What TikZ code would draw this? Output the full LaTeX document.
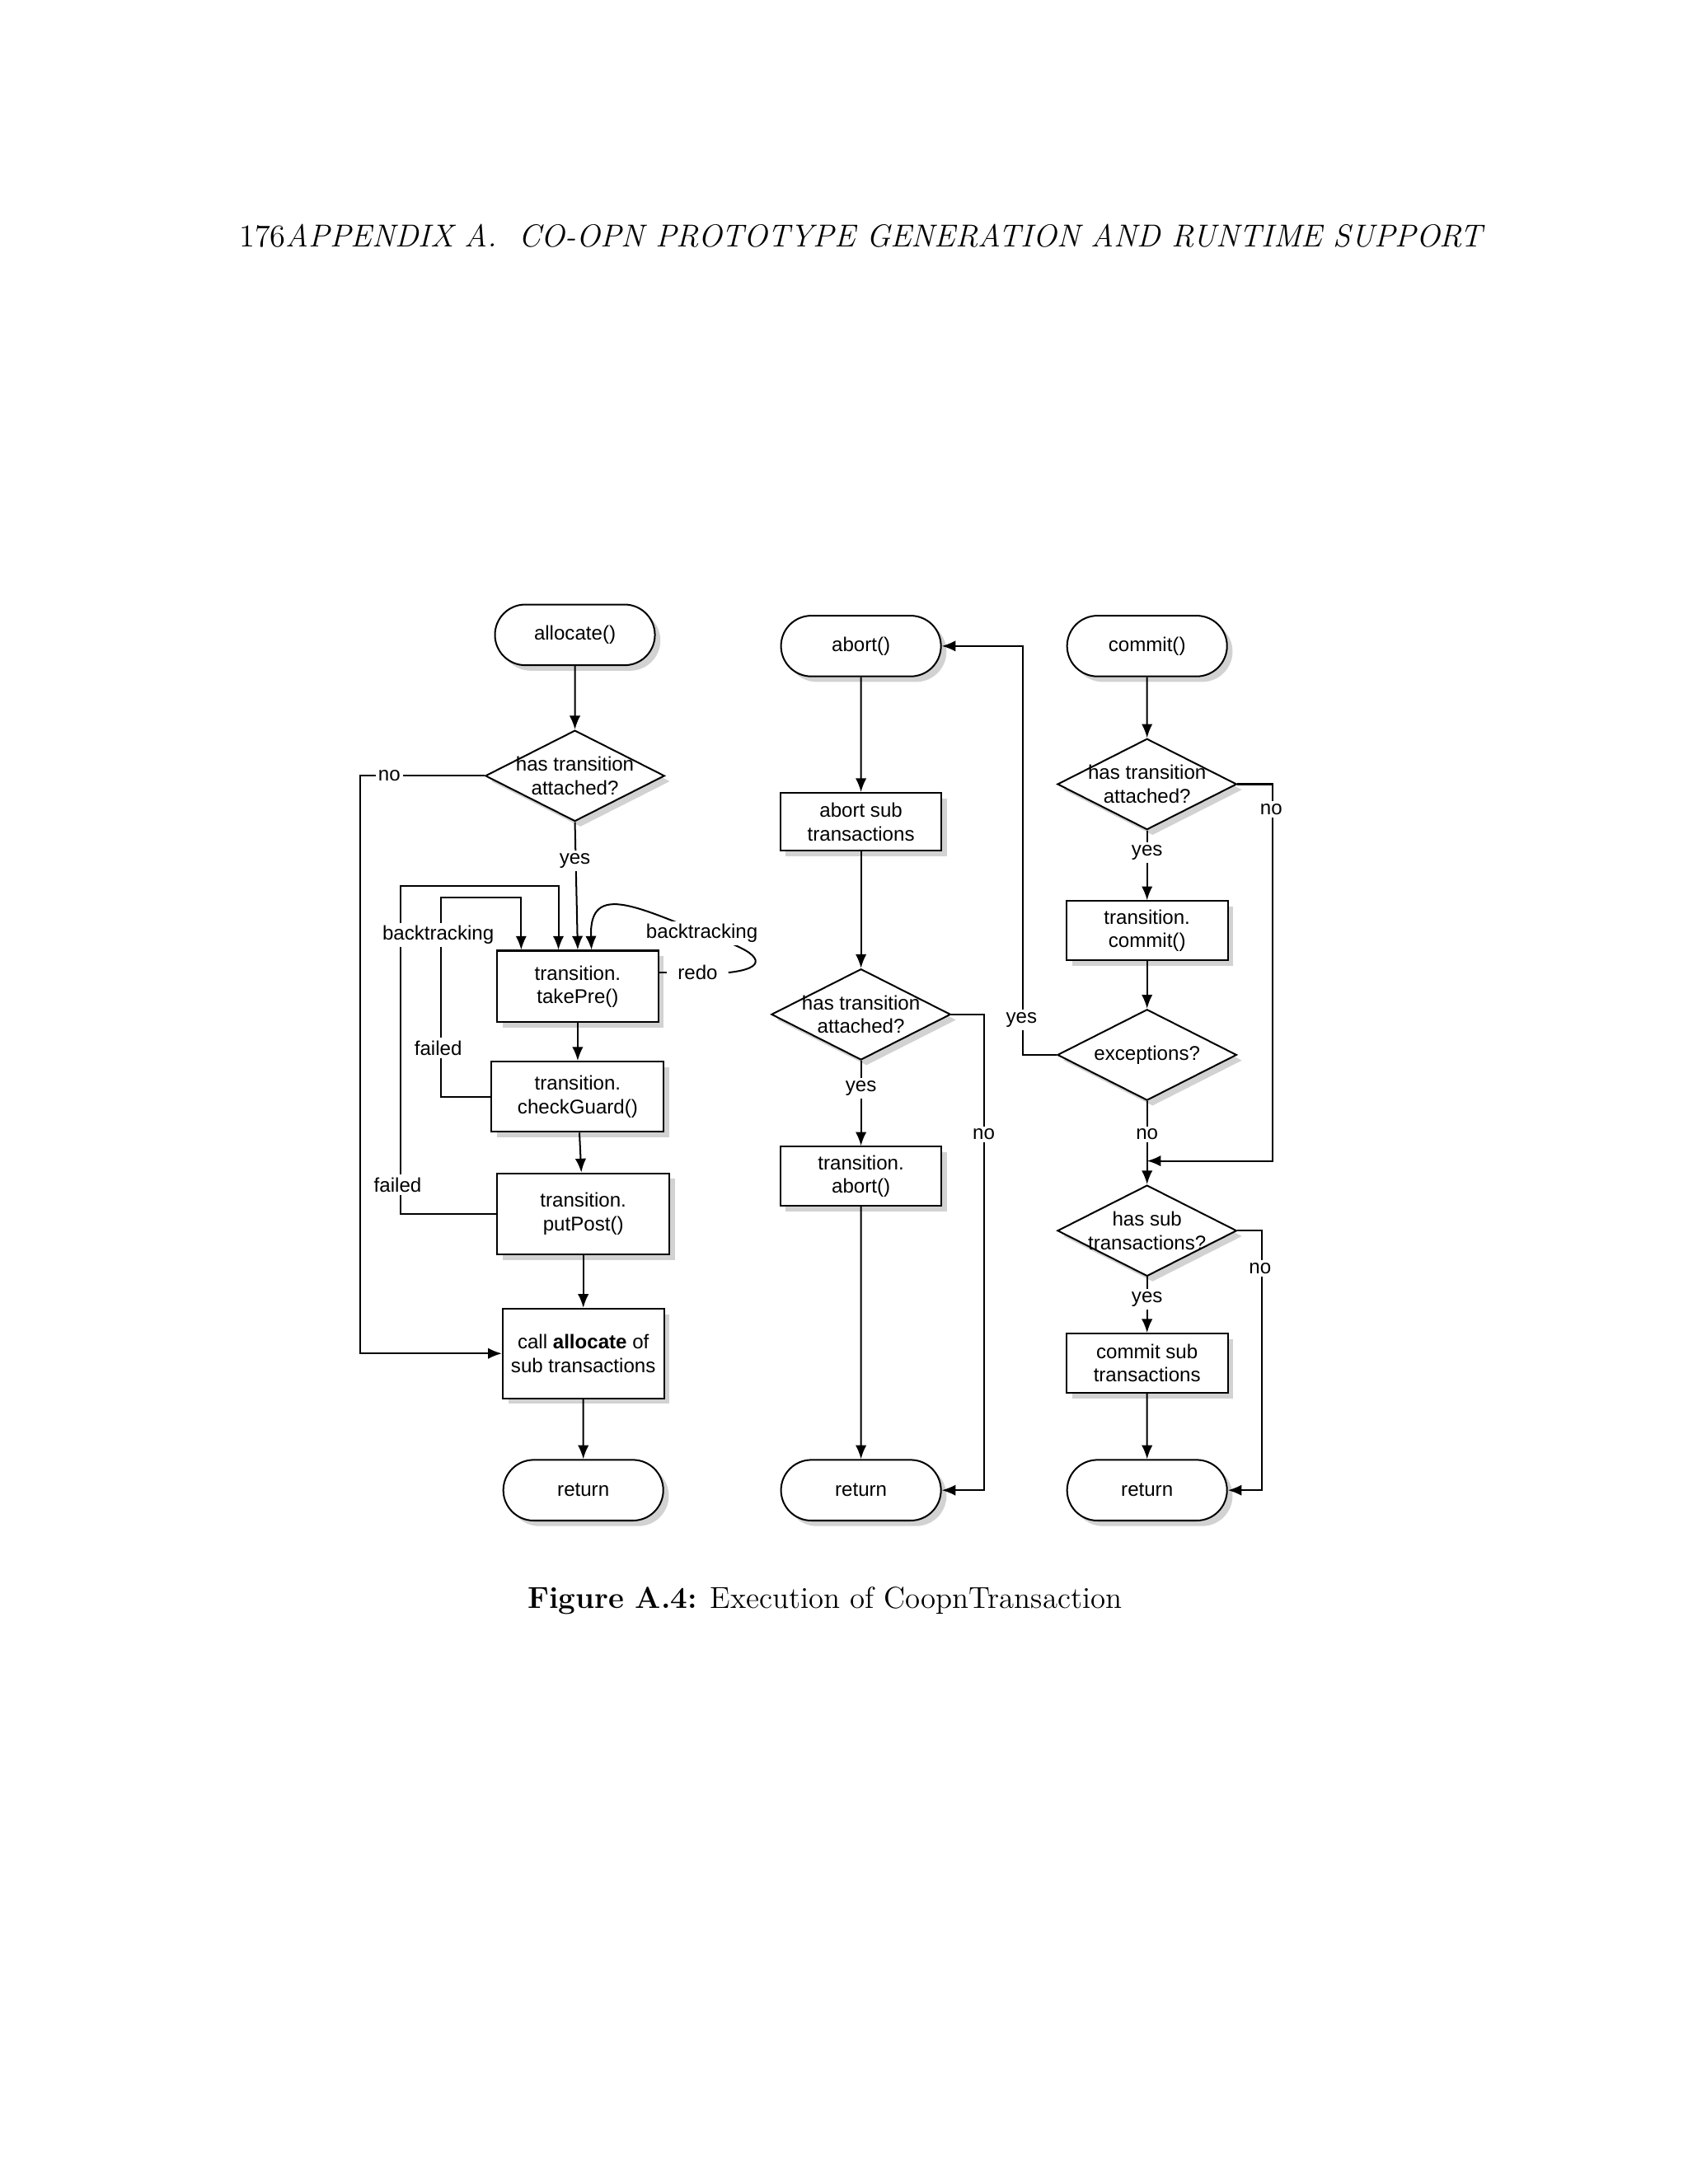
\documentclass[tikz,border=0pt]{standalone}
\usepackage{fontspec}
\newfontfamily\hv{Liberation Sans}
\usetikzlibrary{shapes.geometric,shapes.misc,shadows,arrows.meta}
\tikzset{
  base/.style={draw,line width=0.6pt,fill=white,font=\hv\fontsize{7.2}{8.5}\selectfont,align=center,inner sep=0pt,
    drop shadow={opacity=0.35,shadow xshift=2pt,shadow yshift=-2pt}},
  term/.style={base,rounded rectangle,minimum width=58pt,minimum height=22pt},
  proc/.style={base,rectangle,minimum height=26pt},
  dec/.style={base,diamond,minimum width=65pt,minimum height=33pt},
  arr/.style={line width=0.6pt,-{Latex[length=5pt,width=4pt]}},
  ln/.style={line width=0.6pt},
  lbl/.style={fill=white,inner sep=1pt,font=\hv\fontsize{7.2}{8.5}\selectfont},
  dtxt/.style={font=\hv\fontsize{7.2}{8.5}\selectfont,align=center,inner sep=0pt}
}
\begin{document}
\begin{tikzpicture}[x=0.506pt,y=-0.506pt]
\useasboundingbox[fill=white] (0,0) rectangle (612pt,-792pt);
\node[anchor=west,inner sep=0pt,font=\fontsize{11.5}{14}\selectfont] (hdr) at (171,169) {176\textit{APPENDIX A.\ \ CO-OPN PROTOTYPE GENERATION AND RUNTIME SUPPORT}};
\node[inner sep=0pt,font=\fontsize{11}{14}\selectfont] (cap) at (591,1147) {\textbf{Figure A.4:} Execution of CoopnTransaction};

% left column
\node[term] (al) at (412,455) {allocate()};
\node[dec] (d1) at (412,556) {};
\node[dtxt] (t1) at (d1) {has transition\\attached?};
\node[proc,minimum width=58.5pt] (tp) at (414,707) {transition.\\takePre()};
\node[proc,minimum width=62.5pt,minimum height=25.5pt] (cg) at (414,786) {transition.\\checkGuard()};
\node[proc,minimum width=62.5pt,minimum height=29.5pt] (pp) at (418,870) {transition.\\putPost()};
\node[proc,minimum width=58.5pt,minimum height=32.5pt] (ca) at (418,970) {call \textbf{allocate} of\\sub transactions};
\node[term] (r1) at (418,1068) {return};

% middle column
\node[term] (ab) at (617,463) {abort()};
\node[proc,minimum width=58.5pt,minimum height=21pt] (as) at (617,589) {abort sub\\transactions};
\node[dec] (d2) at (617,727) {};
\node[dtxt] (t2) at (d2) {has transition\\attached?};
\node[proc,minimum width=58.5pt,minimum height=21.5pt] (ta) at (617,843) {transition.\\abort()};
\node[term] (r2) at (617,1068) {return};

% right column
\node[term] (cm) at (822,463) {commit()};
\node[dec] (d3) at (822,562) {};
\node[dtxt] (t3) at (d3) {has transition\\attached?};
\node[proc,minimum width=58.5pt,minimum height=21.5pt] (tc) at (822,667) {transition.\\commit()};
\node[dec] (ex) at (822,756) {};
\node[dtxt] (t4) at (ex) {exceptions?};
\node[dec] (hs) at (822,882) {};
\node[dtxt] (t5) at (hs) {has sub\\transactions?};
\node[proc,minimum width=58.5pt,minimum height=21.5pt] (cs) at (822,977) {commit sub\\transactions};
\node[term] (r3) at (822,1068) {return};
\coordinate (m) at (822,832);

% left connectors
\draw[arr] (al) -- (d1);
\draw[arr] (d1.south) -- (tp.north);
\node[lbl] (ly1) at (412,617) {yes};
\draw[arr] (pp.west) -| (287,635) -| ([xshift=-7pt]tp.north);
\draw[arr] (cg.west) -| (316,643) -| ([xshift=-20.5pt]tp.north);
\draw[arr] (d1.west) -- (258,556) |- (ca.west);
\node[lbl] (ln1) at (279,556) {no};
\node[lbl] (lb1) at (314,670) {backtracking};
\node[lbl] (lf1) at (314,751) {failed};
\node[lbl] (lf2) at (285,849) {failed};
\draw[arr] (tp) -- (cg);
\draw[arr] (cg) -- (pp);
\draw[arr] (pp) -- (ca);
\draw[arr] (ca) -- (r1);
% redo loop
\draw[ln] (tp.east |- 0,697) -- (478,697);
\node[lbl] (lr) at (500,697) {redo};
\draw[arr] (522,697) .. controls (550,694) and (548,684) .. (515,673) .. controls (460,652) and (422,630) .. ([xshift=5pt]tp.north);
\node[lbl] (lb2) at (503,669) {backtracking};

% middle connectors
\draw[arr] (ab) -- (as);
\draw[arr] (as) -- (d2);
\draw[arr] (d2) -- (ta);
\node[lbl] (ly2) at (617,780) {yes};
\draw[arr] (ta) -- (r2);
\draw[arr] (d2.east) -| (705,1068) -- (r2.east);
\node[lbl] (ln2) at (705,813) {no};

% right connectors
\draw[arr] (cm) -- (d3);
\draw[arr] (d3) -- (tc);
\node[lbl] (ly3) at (822,611) {yes};
\draw[arr] (tc) -- (ex);
\draw[arr] (ex) -- (hs);
\node[lbl] (ln3) at (822,813) {no};
\draw[arr] (ex.west) -| (733,463) -- (ab.east);
\node[lbl] (ly4) at (732,731) {yes};
\draw[arr] (d3.east) -| (912,832) -- (m);
\node[lbl] (ln4) at (911,580) {no};
\draw[arr] (hs) -- (cs);
\node[lbl] (ly5) at (822,931) {yes};
\draw[arr] (cs) -- (r3);
\draw[arr] (hs.east) -| (904,1068) -- (r3.east);
\node[lbl] (ln5) at (903,909) {no};
\end{tikzpicture}
\end{document}
